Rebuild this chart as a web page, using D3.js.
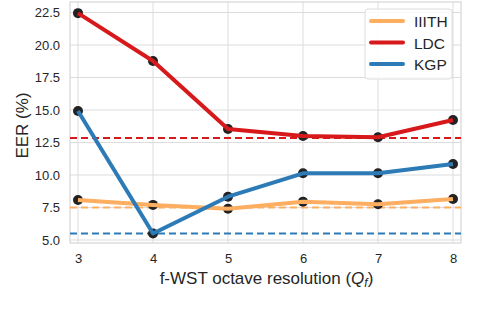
<!DOCTYPE html>
<html><head><meta charset="utf-8">
<script src="https://cdn.jsdelivr.net/npm/d3@7"></script>
<style>body{margin:0;background:#fff}svg{display:block}text{font-family:"Liberation Sans",Arial,sans-serif;fill:#262626}</style>
</head><body>
<svg id="c" width="496" height="320"></svg>
<script>
const xValues = [3, 4, 5, 6, 7, 8];
const seriesNames = ["IIITH", "LDC", "KGP"];
const iiith = [8.08, 7.7, 7.4, 7.95, 7.75, 8.15];
const ldc = [22.45, 18.77, 13.54, 13.0, 12.9, 14.23];
const kgp = [14.92, 5.5, 8.33, 10.13, 10.13, 10.85];
const baselines = [7.5, 12.85, 5.5];
const yTicks = [5.0, 7.5, 10.0, 12.5, 15.0, 17.5, 20.0, 22.5];
const colors = ["#fdae61", "#d7191c", "#2c7bb6"];
const series = [iiith, ldc, kgp];

const svg = d3.select("#c");
const L = 70, R = 461, T = 2, B = 243;
const x = d3.scaleLinear().domain([3, 8]).range([78, 453]);
const y = d3.scaleLinear().domain([5, 22.5]).range([240, 12.5]);

// grid
const g = svg.append("g");
g.selectAll(".vg").data(xValues).join("line")
  .attr("x1", d => x(d)).attr("x2", d => x(d)).attr("y1", T).attr("y2", B)
  .attr("stroke", "#dcdcdc").attr("stroke-width", 1);
g.selectAll(".hg").data(yTicks).join("line")
  .attr("x1", L).attr("x2", R).attr("y1", d => y(d)).attr("y2", d => y(d))
  .attr("stroke", "#dcdcdc").attr("stroke-width", 1);
svg.append("rect").attr("x", L).attr("y", T).attr("width", R - L).attr("height", B - T)
  .attr("fill", "none").attr("stroke", "#d6d6d6").attr("stroke-width", 1.2);

// axes
const xAxis = d3.axisBottom(x).tickValues(xValues).tickFormat(d3.format("d")).tickSize(0).tickPadding(11);
const xa = svg.append("g").attr("transform", `translate(0,${B})`).call(xAxis);
xa.select(".domain").remove();
xa.selectAll("text").style("font-size", "13px").attr("fill", "#262626");
const yAxis = d3.axisLeft(y).tickValues(yTicks).tickFormat(d3.format(".1f")).tickSize(0).tickPadding(10);
const ya = svg.append("g").attr("transform", `translate(${L},0)`).call(yAxis);
ya.select(".domain").remove();
ya.selectAll("text").style("font-size", "13px").attr("fill", "#262626");

// baselines
baselines.forEach((b, i) => {
  svg.append("line").attr("x1", L).attr("x2", R).attr("y1", y(b)).attr("y2", y(b))
    .attr("stroke", colors[i]).attr("stroke-width", 2).attr("stroke-dasharray", "7,4");
});

// series
const line = d3.line().x((d, i) => x(xValues[i])).y(d => y(d));
series.forEach((s, k) => {
  svg.append("g").selectAll("circle").data(s).join("circle")
    .attr("cx", (d, i) => x(xValues[i])).attr("cy", d => y(d)).attr("r", 5)
    .attr("fill", "#222");
  svg.append("path").datum(s).attr("d", line).attr("fill", "none")
    .attr("stroke", colors[k]).attr("stroke-width", 4).attr("stroke-linejoin", "round");
});

// legend
const lg = svg.append("g");
lg.append("rect").attr("x", 365).attr("y", 9).attr("width", 87).attr("height", 70).attr("rx", 3)
  .attr("fill", "#fff").attr("fill-opacity", 0.85).attr("stroke", "#dcdcdc");
seriesNames.forEach((n, i) => {
  const yy = 21 + i * 21.5;
  lg.append("line").attr("x1", 371).attr("x2", 403).attr("y1", yy).attr("y2", yy)
    .attr("stroke", colors[i]).attr("stroke-width", 4).attr("stroke-linecap", "round");
  lg.append("text").attr("x", 414).attr("y", yy + 6).text(n).style("font-size", "15.5px");
});

// labels
svg.append("text").attr("x", (L + R) / 2 + 1).attr("y", 284).attr("text-anchor", "middle")
  .style("font-size", "17px")
  .html('f-WST octave resolution (<tspan font-style="italic">Q</tspan><tspan font-style="italic" font-size="12px" dy="3">f</tspan><tspan dy="-3">)</tspan>');
svg.append("text").attr("transform", `translate(28,${(T + B) / 2 + 3}) rotate(-90)`)
  .attr("text-anchor", "middle").style("font-size", "17px").text("EER (%)");
</script>
</body></html>
